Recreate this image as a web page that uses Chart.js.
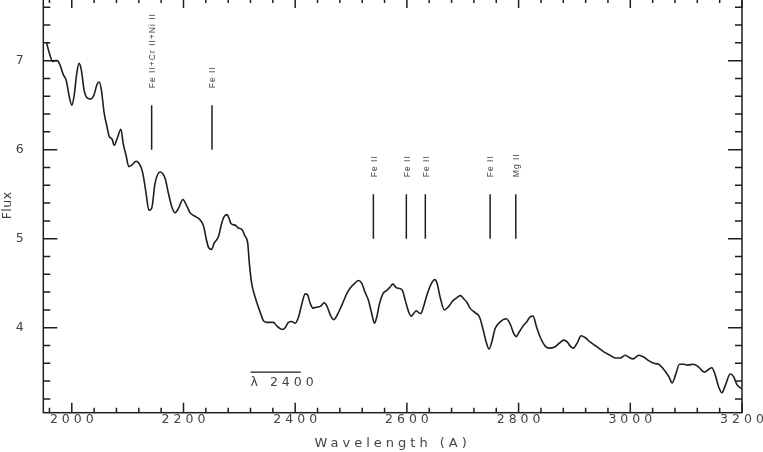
<!DOCTYPE html>
<html>
<head>
<meta charset="utf-8">
<script src="https://cdn.jsdelivr.net/npm/chart.js@4"></script>
<style>
  html, body { margin: 0; padding: 0; background: #fff; overflow: hidden; width: 763px; height: 452px; }
  #wrap { position: absolute; left: 0; top: -10px; width: 763px; height: 462px; }
</style>
</head>
<body>
<div id="wrap"><canvas id="chart" width="763" height="462"></canvas></div>
<script>
// spectrum
const wavelength = [1955,1960,1966,1970,1974,1979,1985,1990,1996,2000,2004,2009,2013,2017,2022,2028,2034,2040,2045,2049,
  2053,2058,2063,2067,2072,2076,2082,2088,2092,2097,2102,2108,2115,2122,2127,2133,2138,2143,2149,2158,
  2167,2173,2179,2185,2191,2199,2205,2212,2221,2230,2236,2241,2245,2250,2255,2263,2267,2272,2278,2282,
  2285,2293,2298,2305,2310,2315,2318,2322,2327,2332,2337,2343,2349,2355,2361,2367,2373,2378,2382,2388,
  2394,2400,2406,2412,2418,2422,2427,2432,2438,2445,2452,2457,2463,2469,2475,2484,2493,2499,2507,2513,
  2519,2525,2531,2537,2542,2546,2551,2557,2564,2569,2575,2581,2587,2592,2597,2603,2608,2612,2617,2621,
  2625,2630,2637,2645,2650,2654,2660,2667,2675,2682,2690,2696,2701,2708,2713,2722,2730,2736,2742,2747,
  2752,2758,2766,2778,2785,2791,2796,2800,2808,2815,2820,2826,2832,2839,2848,2855,2864,2872,2881,2887,
  2893,2898,2905,2912,2919,2928,2937,2946,2955,2964,2973,2982,2991,2997,3005,3015,3024,3033,3042,3051,
  3060,3069,3075,3081,3088,3096,3103,3113,3122,3133,3140,3146,3152,3158,3164,3170,3179,3185,3191,3200];
const flux = [7.20,7.08,6.99,7.00,7.00,6.95,6.84,6.78,6.58,6.50,6.60,6.86,6.97,6.90,6.67,6.58,6.57,6.62,6.73,6.76,
  6.67,6.41,6.26,6.15,6.12,6.05,6.14,6.23,6.07,5.94,5.81,5.83,5.87,5.83,5.74,5.51,5.32,5.34,5.62,5.75,
  5.68,5.51,5.36,5.29,5.34,5.44,5.38,5.29,5.25,5.21,5.14,4.99,4.90,4.88,4.95,5.03,5.14,5.24,5.27,5.22,
  5.17,5.15,5.12,5.10,5.03,4.95,4.72,4.50,4.37,4.27,4.18,4.08,4.06,4.06,4.06,4.02,3.99,3.98,4.00,4.06,
  4.07,4.05,4.12,4.27,4.38,4.37,4.27,4.22,4.23,4.24,4.28,4.24,4.14,4.09,4.14,4.26,4.39,4.45,4.50,4.53,
  4.50,4.40,4.31,4.16,4.05,4.12,4.27,4.38,4.42,4.45,4.49,4.45,4.44,4.42,4.31,4.18,4.13,4.16,4.19,4.17,
  4.16,4.24,4.39,4.51,4.54,4.50,4.33,4.20,4.24,4.30,4.34,4.36,4.33,4.28,4.22,4.17,4.12,3.99,3.84,3.76,
  3.84,3.99,4.06,4.10,4.04,3.94,3.90,3.94,4.02,4.07,4.12,4.13,4.01,3.89,3.79,3.77,3.78,3.82,3.86,3.84,
  3.79,3.77,3.83,3.91,3.89,3.84,3.80,3.76,3.72,3.69,3.66,3.66,3.69,3.67,3.65,3.69,3.67,3.63,3.60,3.59,
  3.53,3.45,3.38,3.47,3.59,3.59,3.58,3.59,3.56,3.50,3.53,3.55,3.47,3.34,3.27,3.35,3.48,3.45,3.36,3.31];

// line identifications
const lineWave = [2143, 2251, 2540, 2599, 2633, 2749, 2795];
const lineBottom = [6.0, 6.0, 5.0, 5.0, 5.0, 5.0, 5.0];
const lineTop = [6.5, 6.5, 5.5, 5.5, 5.5, 5.5, 5.5];
const lineLabels = ["Fe II+Cr II+Ni II", "Fe II", "Fe II", "Fe II", "Fe II", "Fe II", "Mg II"];

// resolution bar
const barWave = [2320, 2410];
const barFlux = 3.5;
const barLabel = "λ 2400";

// axes
const xTicks = [2000, 2200, 2400, 2600, 2800, 3000, 3200];
const yTicks = [4, 5, 6, 7];
const xRange = [1949, 3200];
const yRange = [3.045, 7.704];

const ink = "#1e1e1e";
const textColor = "#444";

const datasets = [{
  data: wavelength.map((w, i) => ({ x: w, y: flux[i] })),
  borderColor: ink,
  borderWidth: 1.6,
  pointRadius: 0,
  cubicInterpolationMode: "monotone",
}];
lineWave.forEach((w, i) => {
  datasets.push({
    data: [{ x: w, y: lineBottom[i] }, { x: w, y: lineTop[i] }],
    borderColor: ink,
    borderWidth: 1.5,
    pointRadius: 0,
  });
});
datasets.push({
  data: barWave.map((w) => ({ x: w, y: barFlux })),
  borderColor: ink,
  borderWidth: 1.3,
  pointRadius: 0,
});

// frame with inward ticks on all four sides, plus the text annotations
const framePlugin = {
  id: "framePlugin",
  beforeDraw(chart) {
    const ys = chart.scales.y;
    if (!ys._tightTitle) {
      const orig = ys.drawTitle;
      ys.drawTitle = function () {
        const c = this.ctx;
        const ls = c.letterSpacing;
        c.letterSpacing = "0.5px";
        orig.call(this);
        c.letterSpacing = ls;
      };
      ys._tightTitle = true;
    }
    chart.ctx.letterSpacing = "4px";
  },
  afterDatasetsDraw(chart) {
    const { ctx, scales: { x, y } } = chart;
    ctx.save();
    ctx.fillStyle = textColor;
    ctx.letterSpacing = "1px";
    ctx.font = "8.5px 'Liberation Sans', sans-serif";
    ctx.textAlign = "left";
    ctx.textBaseline = "middle";
    lineWave.forEach((w, i) => {
      const px = x.getPixelForValue(w) + 1;
      const py = y.getPixelForValue(lineTop[i]) - 17;
      ctx.save();
      ctx.translate(px, py);
      ctx.rotate(-Math.PI / 2);
      ctx.fillText(lineLabels[i], 0, 0);
      ctx.restore();
    });
    ctx.letterSpacing = "4px";
    ctx.font = "12.5px 'DejaVu Sans', sans-serif";
    ctx.fillText(barLabel, x.getPixelForValue(barWave[0]), y.getPixelForValue(barFlux) + 10.5);
    ctx.restore();
  },
  afterDraw(chart) {
    const { ctx, chartArea: a, scales: { x, y } } = chart;
    ctx.save();
    ctx.strokeStyle = ink;
    ctx.lineWidth = 1.5;
    ctx.strokeRect(a.left, a.top, a.right - a.left, a.bottom - a.top);
    ctx.beginPath();
    for (let k = 49; k <= 80; k++) {
      const v = k * 40;
      if (v < xRange[0] || v > xRange[1]) continue;
      const len = v % 200 === 0 ? 10 : 5;
      const px = x.getPixelForValue(v);
      ctx.moveTo(px, a.bottom); ctx.lineTo(px, a.bottom - len);
      ctx.moveTo(px, a.top); ctx.lineTo(px, a.top + len);
    }
    for (let k = 15; k <= 39; k++) {
      const v = k / 5;
      if (v < yRange[0] || v > yRange[1]) continue;
      const len = k % 5 === 0 ? 14 : 7;
      const py = y.getPixelForValue(v);
      ctx.moveTo(a.left, py); ctx.lineTo(a.left + len, py);
      ctx.moveTo(a.right, py); ctx.lineTo(a.right - len, py);
    }
    ctx.stroke();
    ctx.restore();
  },
};

new Chart(document.getElementById("chart"), {
  type: "line",
  data: { datasets },
  plugins: [framePlugin],
  options: {
    responsive: false,
    animation: false,
    devicePixelRatio: 1,
    layout: { padding: { top: 8, right: 21, bottom: 0, left: 0 } },
    plugins: { legend: { display: false }, tooltip: { enabled: false } },
    scales: {
      x: {
        type: "linear",
        min: xRange[0],
        max: xRange[1],
        afterBuildTicks: (s) => { s.ticks = xTicks.map((v) => ({ value: v })); },
        afterFit: (s) => { s.height = 39.3; s.paddingLeft = 0; s.paddingRight = 0; },
        grid: { display: false, drawTicks: false, tickLength: 0 },
        border: { display: false },
        ticks: {
          autoSkip: false,
          maxRotation: 0,
          padding: 0,
          labelOffset: 2,
          color: textColor,
          font: { family: "'DejaVu Sans', sans-serif", size: 12.5 },
          callback: (v) => String(v),
        },
        title: {
          display: true,
          text: "Wavelength (A)",
          color: textColor,
          font: { family: "'DejaVu Sans', sans-serif", size: 13 },
          padding: { top: 0, bottom: 1 },
        },
      },
      y: {
        type: "linear",
        min: yRange[0],
        max: yRange[1],
        afterBuildTicks: (s) => { s.ticks = yTicks.map((v) => ({ value: v })); },
        afterFit: (s) => { s.width = 43.3; s.paddingTop = 0; s.paddingBottom = 0; },
        grid: { display: false, drawTicks: false, tickLength: 0 },
        border: { display: false },
        ticks: {
          padding: 15.5,
          color: textColor,
          font: { family: "'DejaVu Sans', sans-serif", size: 12.5 },
          callback: (v) => String(v),
        },
        title: {
          display: true,
          text: "Flux",
          color: textColor,
          font: { family: "'DejaVu Sans', sans-serif", size: 12.5 },
          padding: { top: 0, bottom: 0 },
        },
      },
    },
  },
});
</script>
</body>
</html>
